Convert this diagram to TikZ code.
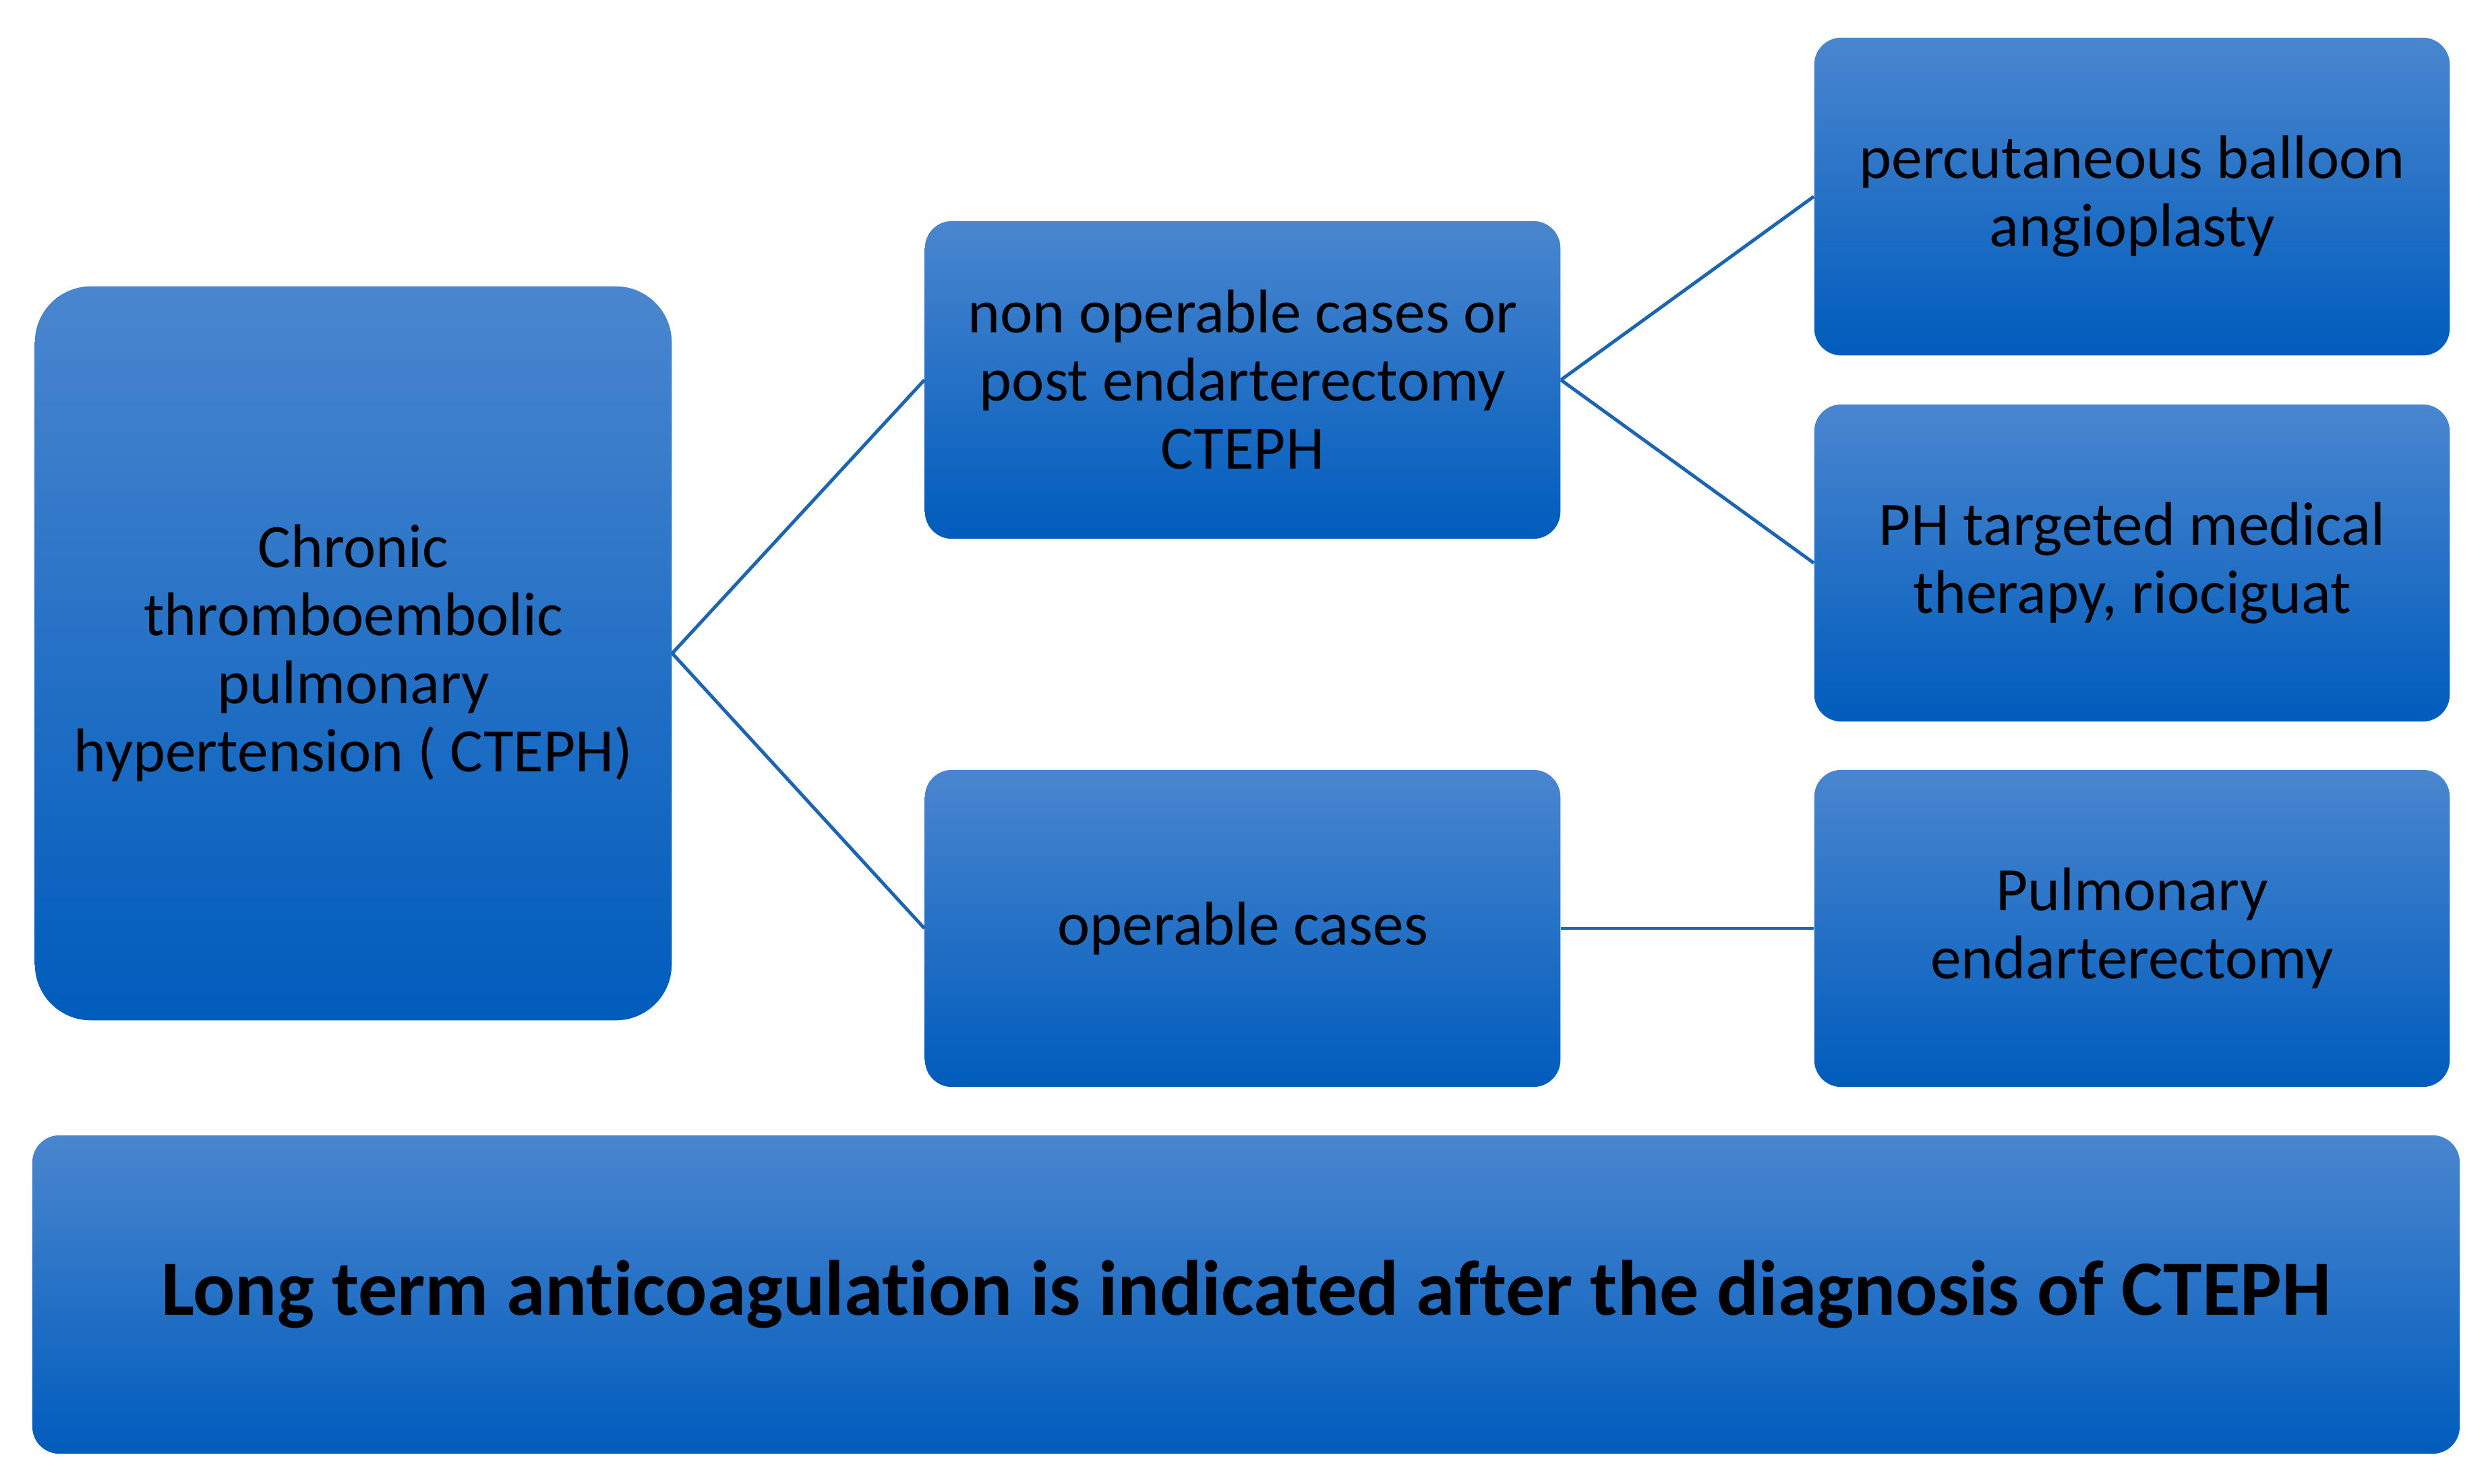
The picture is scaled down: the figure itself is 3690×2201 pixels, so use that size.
\documentclass[tikz,border=0pt]{standalone}
\usepackage{fontspec}
\setmainfont[Ligatures={NoCommon}]{Carlito}
\definecolor{ctop}{HTML}{4A86CF}
\definecolor{cmid}{HTML}{0070CE}
\definecolor{cbot}{HTML}{005CBC}
\definecolor{cline}{HTML}{1B65B2}
\begin{document}
\begin{tikzpicture}[x=0.01cm,y=-0.01cm,
  box/.style={rectangle, rounded corners=0.40cm, top color=ctop, middle color=cmid, bottom color=cbot, draw=none,
    align=center, text=black, inner sep=0pt, font=\fontsize{26}{28.7}\selectfont},
  smallbox/.style={box, minimum width=9.42cm, minimum height=4.71cm},
  conn/.style={draw=cline, line width=1.42pt}
]
\path[use as bounding box, fill=white] (0,0) rectangle (3690,2201);

\node[box, rounded corners=0.83cm, minimum width=9.44cm, minimum height=10.88cm] (root) at (524,969)
  {Chronic\\thromboembolic\\pulmonary\\hypertension ( CTEPH)};
\node[smallbox] (nonop) at (1843,563.5) {non operable cases or\\post endarterectomy\\CTEPH};
\node[smallbox, minimum height=4.70cm] (op) at (1843,1377) {operable cases};
\node[smallbox] (bpa) at (3162,291.5) {percutaneous balloon\\angioplasty};
\node[smallbox, minimum height=4.70cm] (med) at (3162,835) {PH targeted medical\\therapy, riociguat};
\node[smallbox, minimum height=4.70cm] (pea) at (3162,1377) {Pulmonary\\endarterectomy};
\node[box, minimum width=35.98cm, minimum height=4.72cm, font=\fontsize{33}{36}\selectfont\bfseries] (anti) at (1848,1920)
  {Long term anticoagulation is indicated after the diagnosis of CTEPH};

\draw[conn] (root.east) -- (nonop.west);
\draw[conn] (root.east) -- (op.west);
\draw[conn] (nonop.east) -- (bpa.west);
\draw[conn] (nonop.east) -- (med.west);
\draw[conn] (op.east) -- (pea.west);
\end{tikzpicture}
\end{document}
